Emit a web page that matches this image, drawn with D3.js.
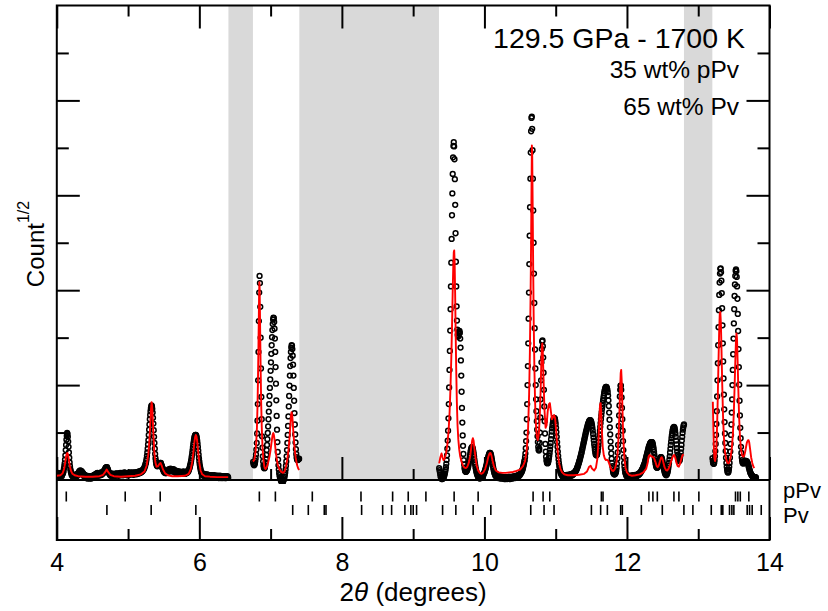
<!DOCTYPE html>
<html>
<head>
<meta charset="utf-8">
<script src="https://cdn.jsdelivr.net/npm/d3@7"></script>
<style>
  body { margin: 0; background: #fff; }
  svg { display: block; font-family: "Liberation Sans", Arial, Helvetica, sans-serif; }
</style>
</head>
<body>
<svg id="chart" width="828" height="611"></svg>
<script>
// 2theta ranges left out of the refinement (grey bands)
const excluded = [[6.408, 6.752], [7.403, 9.362], [12.80, 13.198]];

// observed pattern: sqrt(count) on a 0.005 deg 2theta grid, one array per refined window
const obsStep = 0.005;
const obsStart = [4.000, 6.755, 9.365, 13.200];
const obsA = [
  1.4,0.8,1.2,1.5,0.9,1.0,1.4,0.7,1.2,1.0, 1.3,0.9,1.1,1.5,0.8,1.2,1.4,1.3,1.6,1.9,
  2.4,2.9,3.5,4.3,5.2,6.3,7.4,8.5,9.3,9.9, 9.7,9.1,8.1,7.0,5.8,4.7,3.7,2.9,2.3,1.9,
  1.6,1.3,1.0,1.3,0.8,1.1,0.7,1.0,0.9,0.6, 1.0,0.7,1.1,0.6,0.9,1.2,0.8,1.1,1.3,1.0,
  1.4,1.2,1.7,1.4,1.9,1.6,2.0,1.5,1.9,1.6, 1.8,1.3,1.6,1.1,1.4,0.9,1.2,0.8,1.1,0.6,
  0.9,0.5,0.8,0.4,0.9,0.6,0.3,0.7,0.5,0.8, 0.4,0.7,0.3,0.6,0.8,0.4,0.6,0.3,0.7,0.5,
  0.8,0.5,0.9,0.6,1.0,0.7,1.1,0.9,1.2,0.8, 1.3,1.0,1.4,1.1,1.5,1.0,1.3,0.9,1.4,1.1,
  1.2,1.5,1.0,1.4,1.2,1.6,1.1,1.5,1.3,1.7, 1.4,1.8,1.6,2.0,1.9,2.3,2.2,2.6,2.5,2.7,
  2.6,2.7,2.4,2.3,2.0,1.8,1.6,1.3,1.4,1.1, 1.3,0.9,1.2,1.0,1.4,0.8,1.2,1.0,1.3,0.9,
  1.1,0.8,1.2,1.0,1.3,0.9,1.4,1.1,1.3,1.0, 1.4,1.1,1.3,0.9,1.2,1.0,1.4,1.1,1.5,1.2,
  1.0,1.3,1.1,1.5,1.2,1.4,1.0,1.3,1.5,1.2, 1.6,1.3,1.5,1.2,1.4,1.1,1.3,1.0,1.4,1.2,
  1.1,1.4,1.2,1.5,1.1,1.3,1.6,1.2,1.4,1.3, 1.5,1.2,1.6,1.3,1.4,1.1,1.5,1.3,1.6,1.2,
  1.4,1.6,1.3,1.5,1.2,1.6,1.4,1.7,1.3,1.6, 1.5,1.8,1.4,1.7,1.5,1.9,1.6,1.8,1.7,2.0,
  1.8,2.1,2.0,2.3,2.2,2.5,2.6,2.9,3.0,3.4, 3.6,4.0,4.5,5.1,5.8,6.6,7.5,8.4,9.5,10.6,
  11.7,12.8,13.7,14.5,15.1,15.5,15.7,15.5,15.0,14.2, 13.1,11.9,10.5,9.1,7.8,6.6,5.5,4.6,4.0,3.5,
  3.2,3.0,2.9,3.0,3.2,3.1,3.3,3.4,3.5,3.4, 3.6,3.5,3.6,3.3,3.1,2.9,2.6,2.5,2.2,2.1,
  1.8,2.0,1.6,1.9,1.5,1.8,1.4,1.7,1.5,1.8, 1.6,2.0,1.7,2.1,1.9,2.3,1.8,2.2,2.0,2.4,
  2.1,2.3,1.9,2.2,1.8,2.1,2.0,2.3,1.9,2.2, 1.7,2.0,1.6,1.9,1.5,1.8,1.6,1.9,1.5,1.8,
  1.4,1.7,1.5,1.8,1.3,1.6,1.4,1.7,1.3,1.5, 1.7,1.4,1.6,1.3,1.7,1.5,1.8,1.4,1.6,1.3,
  1.5,1.3,1.6,1.4,1.7,1.5,1.8,1.6,1.9,1.8, 2.0,2.2,2.4,2.7,3.0,3.3,3.7,4.1,4.6,5.1,
  5.7,6.3,6.9,7.5,8.0,8.5,8.9,9.2,9.4,9.5, 9.5,9.4,9.2,8.8,8.3,7.7,7.0,6.2,5.4,4.6,
  3.9,3.3,2.8,2.4,2.0,1.7,1.6,1.3,1.4,1.1, 1.3,0.9,1.2,1.0,1.3,0.8,1.1,0.9,1.2,0.8,
  1.1,0.8,1.2,0.9,0.7,1.1,0.8,1.0,0.6,0.9, 0.7,1.0,0.6,0.9,0.7,1.0,0.8,0.5,0.9,0.7,
  0.9,0.6,1.0,0.7,0.5,0.8,0.6,0.9,0.7,0.5, 0.8,0.6,0.9,0.5,0.7,0.4,0.8,0.6,0.9,0.5,
  0.7,0.4,0.8,0.6,0.5,0.8,0.4,0.7,0.5,0.8, 0.5,0.7,0.4,0.8,0.6,0.4,0.7,0.5,0.8,0.6,
  0.7,0.5
];
const obsB = [
  3.8,3.4,3.2,3.1,3.3,3.6,4.0,4.6,5.4,6.4, 7.8,9.8,12.5,16.0,21.0,27.0,33.5,39.5,43.0,41.5,
  36.5,30.0,23.5,17.5,12.8,9.2,6.8,5.0,3.9,3.1, 2.7,2.5,2.5,2.7,3.1,3.7,4.4,5.3,6.3,7.4,
  8.6,9.9,11.3,12.8,14.4,16.0,17.7,19.4,21.2,23.0, 24.8,26.6,28.4,30.1,31.6,32.9,33.8,34.2,34.1,33.3,
  31.9,29.8,27.0,23.8,20.3,16.8,13.5,10.6,8.0,5.9, 4.3,3.1,2.2,1.5,1.0,0.6,0.3,0.1,-0.1,-0.3,
  -0.4,-0.5,-0.5,-0.4,-0.3,-0.1,0.1,0.4,0.7,1.1, 1.6,2.2,3.0,3.9,5.0,6.3,7.8,9.5,11.4,13.4,
  15.5,17.7,19.9,22.0,24.0,25.7,27.0,27.9,28.4,28.3, 27.6,26.2,24.3,22.0,19.4,16.7,14.1,11.7,9.6,7.9,
  6.5,5.5,4.8,4.4,4.2,4.2,4.3,4.3,4.4,4.5
];
const obsC = [
  2.5,2.1,1.7,1.2,0.8,0.5,0.3,0.2,0.3,0.2, 0.5,0.3,0.7,0.5,0.9,1.1,1.4,1.8,2.2,2.7,
  3.4,4.2,5.2,6.6,8.3,10.4,13.0,16.0,19.5,23.2, 27.2,31.5,36.0,40.8,45.8,50.8,55.8,60.4,64.5,68.0,
  70.4,71.2,70.3,67.6,63.4,58.0,52.0,46.0,40.8,36.6, 33.6,31.7,30.6,30.2,30.4,30.9,31.3,31.4,31.0,29.8,
  27.9,25.2,22.0,18.6,15.2,12.1,9.4,7.2,5.5,4.2, 3.3,2.6,2.2,1.9,1.8,1.7,1.8,1.9,2.0,2.2,
  2.4,2.7,3.0,3.4,3.9,4.4,4.9,5.4,5.9,6.3, 6.6,6.8,6.9,6.9,6.7,6.4,6.0,5.5,4.9,4.3,
  3.7,3.2,2.7,2.3,1.9,1.6,1.3,1.1,0.9,0.7, 0.6,0.8,0.4,0.6,0.3,0.5,0.4,0.7,0.5,0.8,
  0.6,0.9,0.8,1.1,1.0,1.3,1.4,1.6,1.8,2.1, 2.3,2.6,2.9,3.2,3.6,3.9,4.3,4.6,4.9,5.2,
  5.4,5.6,5.7,5.7,5.6,5.4,5.1,4.7,4.3,3.8, 3.4,2.9,2.5,2.1,1.8,1.5,1.3,1.1,0.9,0.8,
  1.0,0.7,0.9,0.5,0.8,0.6,0.4,0.7,0.5,0.8, 0.4,0.6,0.3,0.7,0.5,0.4,0.7,0.3,0.6,0.4,
  0.6,0.3,0.5,0.2,0.6,0.4,0.2,0.5,0.3,0.6, 0.4,0.2,0.5,0.3,0.6,0.4,0.7,0.3,0.5,0.2,
  0.5,0.3,0.6,0.4,0.7,0.5,0.3,0.6,0.4,0.7, 0.5,0.8,0.6,0.4,0.7,0.5,0.8,0.6,0.9,0.7,
  0.9,0.7,1.0,0.8,1.1,0.9,1.2,1.1,1.3,1.4, 1.5,1.7,1.8,2.0,2.2,2.5,2.8,3.1,3.5,3.9,
  4.2,4.8,5.6,6.7,8.2,10.0,12.8,16.0,20.0,24.0, 28.8,34.0,39.5,45.5,51.5,57.5,63.5,69.0,73.5,76.3,
  76.6,74.0,69.5,63.5,56.8,50.0,43.5,37.3,32.0,27.5, 23.5,20.0,17.0,14.5,12.4,10.6,9.2,8.0,7.0,6.4,
  6.2,6.6,7.8,10.0,13.2,17.0,21.0,24.8,27.6,29.2, 29.4,28.2,25.8,22.6,19.0,15.5,12.4,9.8,7.6,6.0,
  4.9,4.2,3.8,3.6,3.5,3.6,3.8,4.1,4.6,5.1, 5.7,6.4,7.1,7.8,8.6,9.4,10.2,10.9,11.5,12.0,
  12.5,12.8,13.0,13.1,13.0,12.8,12.4,11.8,11.0,10.1, 9.1,8.0,7.0,6.0,5.1,4.3,3.6,3.0,2.5,2.1,
  1.8,1.5,1.4,1.1,1.2,0.9,1.0,0.7,0.9,0.6, 0.9,0.6,1.0,0.7,0.9,0.6,1.0,0.8,1.1,0.7,
  1.0,0.8,1.1,0.7,1.0,0.9,1.2,0.8,1.1,1.0, 1.2,0.9,1.3,1.0,1.2,1.1,1.4,1.2,1.5,1.4,
  1.6,1.5,1.8,1.8,2.0,2.1,2.3,2.5,2.7,2.9, 3.1,3.4,3.6,3.9,4.1,4.4,4.7,5.0,5.3,5.6,
  5.9,6.3,6.6,7.0,7.3,7.7,8.0,8.4,8.7,9.1, 9.4,9.8,10.1,10.4,10.7,11.0,11.3,11.6,11.8,12.0,
  12.2,12.4,12.5,12.6,12.6,12.5,12.4,12.2,11.9,11.5, 11.0,10.4,9.7,9.0,8.3,7.6,7.0,6.4,5.9,5.5,
  5.3,5.2,5.2,5.4,5.7,6.1,6.7,7.3,8.0,8.8, 9.6,10.4,11.2,12.0,12.8,13.6,14.3,15.0,15.6,16.2,
  16.8,17.3,17.8,18.3,18.7,19.0,19.3,19.5,19.6,19.6, 19.5,19.3,19.0,18.5,17.8,16.8,15.6,14.2,12.7,11.1,
  9.6,8.1,6.8,5.6,4.5,3.6,2.9,2.3,1.8,1.5, 1.3,1.2,1.2,1.2,1.3,1.5,1.7,2.0,2.6,3.4,
  4.5,5.8,7.4,9.3,11.4,13.6,15.7,17.6,19.0,19.9, 19.9,19.0,17.4,15.2,12.8,10.4,8.2,6.3,4.8,3.6,
  2.8,2.2,1.7,1.4,1.2,1.0,0.8,1.0,0.7,0.9, 0.6,0.9,0.7,0.5,0.8,0.6,0.9,0.7,0.5,0.8,
  0.6,0.9,0.7,1.0,0.8,0.6,0.9,0.7,1.0,0.8, 1.1,0.9,0.7,1.0,0.8,1.1,0.9,1.2,1.0,1.3,
  1.1,1.4,1.2,1.5,1.4,1.6,1.7,1.8,2.0,2.1, 2.3,2.4,2.6,2.8,3.0,3.2,3.4,3.6,3.9,4.2,
  4.5,4.8,5.1,5.4,5.7,6.0,6.3,6.6,6.9,7.1, 7.3,7.5,7.7,7.8,7.9,8.0,8.0,8.0,7.9,7.7,
  7.4,7.0,6.5,5.9,5.3,4.7,4.1,3.6,3.2,2.9, 2.7,2.6,2.6,2.7,2.9,3.1,3.4,3.7,4.0,4.3,
  4.5,4.7,4.8,4.8,4.7,4.5,4.2,3.8,3.4,3.0, 2.6,2.2,1.9,1.6,1.4,1.2,1.1,1.0,1.1,1.2,
  1.4,1.7,2.0,2.5,3.0,3.6,4.3,5.0,5.8,6.6, 7.4,8.1,8.8,9.4,9.9,10.4,10.7,11.0,11.1,11.2,
  11.1,10.8,10.4,9.8,9.1,8.3,7.5,6.7,6.0,5.3, 4.8,4.4,4.1,4.0,4.0,4.2,4.6,5.1,5.8,6.6,
  7.4,8.3,9.1,9.9,10.6,11.1,11.5,11.7
];
const obsD = [
  4.6,4.0,3.6,3.4,3.4,3.7,4.2,5.0,6.1,7.6, 9.5,11.8,14.5,17.6,21.0,24.6,28.4,32.2,35.8,39.0,
  41.6,43.5,44.5,44.6,43.8,42.0,39.4,36.2,32.6,28.8, 25.0,21.4,18.0,14.9,12.2,9.8,7.8,6.1,4.7,3.6,
  2.8,2.2,1.8,1.6,1.6,1.8,2.2,2.8,3.6,4.7, 6.0,7.6,9.5,11.7,14.2,17.0,20.0,23.2,26.5,29.8,
  33.0,36.0,38.8,41.2,43.0,44.1,44.4,44.0,42.8,40.8, 38.2,35.0,31.4,27.6,23.8,20.1,16.7,13.6,11.0,8.8,
  7.0,5.7,4.8,4.2,3.8,3.6,3.5,3.5,3.6,3.7, 3.8,3.9,4.0,4.0,4.0,3.9,3.9,3.8,3.7,3.5,
  3.3,3.0,2.7,2.4,2.1,1.9,1.6,1.4,1.3,1.1, 1.0,0.9,0.8,0.7,0.7,0.6,0.6,0.6,0.5,0.6,
  0.5,0.6,0.5
];

// calculated (fitted) pattern, [2theta, sqrt(count)]
const calc = [
  [4.000,0.9],[4.050,1.0],[4.080,1.4],[4.100,2.2],[4.115,3.4],[4.128,4.8],[4.140,5.6],[4.148,5.7],[4.156,5.4],[4.168,4.4],
  [4.182,3.0],[4.200,1.9],[4.220,1.3],[4.250,1.0],[4.300,0.8],[4.400,0.7],[4.500,0.7],[4.600,0.8],[4.650,1.1],[4.680,1.7],
  [4.700,2.2],[4.720,1.7],[4.750,1.1],[4.800,0.8],[4.900,0.7],[5.000,0.8],[5.100,0.9],[5.180,1.2],[5.230,1.8],[5.260,3.0],
  [5.285,5.5],[5.300,8.5],[5.312,12.0],[5.322,15.0],[5.330,16.4],[5.338,15.6],[5.346,13.0],[5.356,9.5],[5.368,6.0],[5.382,3.8],
  [5.400,2.8],[5.420,2.9],[5.440,3.4],[5.455,3.6],[5.470,3.1],[5.490,2.2],[5.520,1.4],[5.560,1.0],[5.620,0.8],[5.700,0.8],
  [5.800,0.9],[5.850,1.3],[5.880,2.3],[5.900,3.8],[5.915,5.6],[5.928,7.6],[5.940,9.0],[5.950,9.5],[5.960,9.2],[5.972,7.9],
  [5.985,5.8],[6.000,3.6],[6.018,2.0],[6.040,1.2],[6.080,0.8],[6.150,0.7],[6.250,0.6],[6.350,0.6],[6.405,0.6],
  [6.752,3.9],[6.770,4.2],[6.785,5.4],[6.798,7.8],[6.808,11.0],[6.816,15.5],[6.822,20.5],[6.828,26.5],[6.833,32.5],[6.838,38.5],
  [6.842,41.7],[6.846,40.5],[6.850,36.0],[6.855,29.5],[6.861,22.5],[6.868,16.0],[6.876,11.0],[6.886,7.0],[6.898,4.4],[6.912,2.8],
  [6.928,2.3],[6.945,2.7],[6.965,3.6],[6.985,5.0],[7.000,6.4],[7.012,7.8],[7.022,8.9],[7.030,9.6],[7.038,9.9],[7.046,9.5],
  [7.056,8.4],[7.068,6.6],[7.082,4.8],[7.100,3.2],[7.125,2.2],[7.150,1.7],[7.175,1.5],[7.195,1.8],[7.215,2.8],[7.235,4.4],
  [7.252,6.5],[7.266,9.0],[7.278,11.8],[7.287,13.7],[7.294,14.3],[7.302,13.8],[7.311,12.0],[7.322,9.4],[7.336,6.8],[7.352,4.7],
  [7.370,3.2],[7.388,2.4],[7.400,2.1],
  [9.365,3.5],[9.382,4.8],[9.398,5.6],[9.412,4.8],[9.425,4.2],[9.440,4.4],[9.460,5.5],[9.480,7.5],[9.498,10.5],[9.512,14.5],
  [9.524,19.5],[9.535,25.5],[9.545,32.0],[9.554,39.0],[9.562,44.5],[9.570,48.0],[9.576,48.4],[9.582,46.0],[9.589,39.5],[9.596,31.5],
  [9.604,23.5],[9.613,16.5],[9.623,11.5],[9.634,8.5],[9.646,6.5],[9.660,5.0],[9.680,3.8],[9.700,3.0],[9.720,2.6],[9.740,2.5],
  [9.760,2.8],[9.780,3.6],[9.800,5.0],[9.815,6.8],[9.828,8.3],[9.838,8.8],[9.848,8.3],[9.860,6.6],[9.875,4.6],[9.892,3.0],
  [9.912,2.0],[9.935,1.5],[9.960,1.3],[9.985,1.6],[10.010,2.3],[10.035,3.6],[10.055,4.9],[10.072,5.6],[10.085,5.7],[10.098,5.2],
  [10.115,4.0],[10.135,2.8],[10.160,2.0],[10.200,1.6],[10.250,1.5],[10.300,1.5],[10.350,1.6],[10.400,1.7],[10.450,1.9],[10.500,2.2],
  [10.540,2.9],[10.570,4.0],[10.595,6.5],[10.613,11.0],[10.627,18.0],[10.638,27.0],[10.647,38.0],[10.655,50.0],[10.661,62.0],[10.666,70.5],
  [10.671,68.0],[10.677,58.0],[10.684,45.0],[10.692,33.0],[10.701,23.5],[10.711,16.5],[10.722,11.8],[10.735,9.2],[10.748,8.4],[10.762,9.5],
  [10.776,13.0],[10.788,18.5],[10.798,24.5],[10.806,28.0],[10.812,28.8],[10.819,27.0],[10.828,22.0],[10.842,15.0],[10.858,11.0],[10.872,11.5],
  [10.888,14.5],[10.905,16.0],[10.918,16.2],[10.932,14.5],[10.948,12.8],[10.962,13.2],[10.978,13.7],[10.992,13.0],[11.006,10.5],[11.020,7.5],
  [11.035,5.0],[11.050,3.4],[11.068,2.3],[11.090,1.6],[11.120,1.2],[11.170,1.0],[11.250,1.0],[11.330,1.1],[11.400,1.3],[11.440,1.8],
  [11.470,2.8],[11.490,3.0],[11.510,2.4],[11.540,2.0],[11.565,2.6],[11.585,4.5],[11.600,8.0],[11.612,12.5],[11.622,15.8],[11.630,16.2],
  [11.638,14.5],[11.648,10.5],[11.660,7.0],[11.675,5.2],[11.690,4.5],[11.705,4.2],[11.720,4.3],[11.735,4.1],[11.750,3.5],[11.770,2.6],
  [11.790,2.0],[11.810,1.9],[11.830,2.3],[11.850,3.4],[11.868,5.5],[11.882,9.0],[11.894,14.0],[11.904,19.0],[11.912,22.5],[11.919,23.2],
  [11.926,21.0],[11.934,16.5],[11.943,11.5],[11.953,7.5],[11.965,4.5],[11.980,2.6],[12.000,1.6],[12.030,1.1],[12.070,0.9],[12.120,1.0],
  [12.180,1.2],[12.230,1.6],[12.270,2.4],[12.290,3.6],[12.305,5.0],[12.320,5.3],[12.340,5.0],[12.360,4.9],[12.380,4.6],[12.400,3.8],
  [12.418,2.9],[12.430,2.7],[12.445,3.0],[12.462,3.9],[12.476,4.6],[12.488,4.8],[12.500,4.4],[12.515,3.4],[12.530,2.6],[12.548,2.1],
  [12.566,2.0],[12.585,2.4],[12.605,3.2],[12.625,4.2],[12.645,5.0],[12.662,5.3],[12.678,4.7],[12.695,3.6],[12.712,2.9],[12.728,2.8],
  [12.745,3.4],[12.762,4.4],[12.778,5.2],[12.797,5.4],
  [13.205,16.5],[13.212,11.0],[13.220,6.5],[13.228,4.5],[13.236,4.0],[13.245,4.8],[13.255,7.0],[13.265,11.5],[13.275,18.0],[13.285,25.5],
  [13.294,31.5],[13.302,35.0],[13.310,35.4],[13.318,33.0],[13.327,27.0],[13.337,20.0],[13.348,13.5],[13.360,9.0],[13.375,6.0],[13.392,4.4],
  [13.410,3.6],[13.425,3.5],[13.440,3.9],[13.455,4.9],[13.470,6.5],[13.486,9.5],[13.500,14.5],[13.512,20.5],[13.522,26.0],[13.530,29.5],
  [13.537,30.9],[13.544,29.8],[13.552,25.5],[13.562,19.5],[13.573,13.5],[13.586,9.0],[13.600,6.5],[13.615,5.2],[13.630,4.9],[13.645,5.1],
  [13.658,5.9],[13.670,6.9],[13.683,7.9],[13.695,8.3],[13.705,8.4],[13.715,8.0],[13.728,6.5],[13.742,4.8],[13.758,3.6],[13.772,2.9],
  [13.785,2.5]
];

// Bragg reflection positions
const pPvRefl = [4.133, 4.96, 5.451, 6.842, 7.067, 7.585, 8.268, 8.712, 8.931, 9.179, 9.575, 9.912, 10.683, 10.823, 10.917,
  11.641, 11.664, 12.308, 12.364, 12.426, 12.659, 12.729, 13.009, 13.523, 13.556, 13.59, 13.71];
const pvRefl = [4.703, 5.324, 5.951, 7.310, 7.529, 7.753, 7.777, 8.277, 8.572, 8.698, 8.884, 8.968, 9.001, 9.048, 9.413,
  9.599, 9.842, 10.09, 10.65, 10.837, 10.977, 11.501, 11.631, 11.725, 11.912, 11.935, 12.202, 12.496, 12.799, 12.925,
  13.183, 13.323, 13.345, 13.439, 13.472, 13.5, 13.687, 13.72, 13.757, 13.884];

const majorX = [4, 6, 8, 10, 12, 14];
const minorX = [5, 7, 9, 11, 13];
const majorY = [20, 40, 60, 80];
const minorY = [10, 30, 50, 70, 90];
const notes = ['129.5 GPa - 1700 K', '35 wt% pPv', '65 wt% Pv'];

const frame = { left: 56.8, right: 769.5, top: 5.5, base: 480, bottom: 540 };

const obs = [obsA, obsB, obsC, obsD]
    .flatMap((vals, k) => vals.map((v, i) => [obsStart[k] + i * obsStep, v]));

const svg = d3.select('#chart');

const x = d3.scaleLinear().domain([4, 14]).range([frame.left, frame.right]);
const y = d3.scaleLinear().domain([0, 100]).range([frame.base, frame.top]);

// grey excluded regions
svg.append('g').selectAll('rect')
    .data(excluded)
    .join('rect')
    .attr('x', d => x(d[0]))
    .attr('width', d => x(d[1]) - x(d[0]))
    .attr('y', frame.top)
    .attr('height', frame.base - frame.top)
    .attr('fill', '#d9d9d9');

// tick-only axes (labels handled separately)
function ticks(axisFn, scale, values, size, transform) {
    svg.append('g')
        .attr('transform', transform)
        .call(axisFn(scale).tickValues(values).tickSize(size).tickFormat(''))
        .call(g => g.select('.domain').remove())
        .call(g => g.selectAll('line').attr('stroke', '#000').attr('stroke-width', 2));
}

ticks(d3.axisBottom, x, majorX, -23, `translate(0,${frame.bottom})`);
ticks(d3.axisBottom, x, minorX, -11, `translate(0,${frame.bottom})`);
ticks(d3.axisBottom, x, majorX, -23, `translate(0,${frame.base})`);
ticks(d3.axisBottom, x, minorX, -11, `translate(0,${frame.base})`);
ticks(d3.axisTop, x, majorX, -23, `translate(0,${frame.top})`);
ticks(d3.axisTop, x, minorX, -11, `translate(0,${frame.top})`);
ticks(d3.axisLeft, y, majorY, -23, `translate(${frame.left},0)`);
ticks(d3.axisLeft, y, minorY, -12, `translate(${frame.left},0)`);
ticks(d3.axisRight, y, majorY, -23, `translate(${frame.right},0)`);
ticks(d3.axisRight, y, minorY, -12, `translate(${frame.right},0)`);

// frame + zero line
svg.append('rect')
    .attr('x', frame.left).attr('y', frame.top)
    .attr('width', frame.right - frame.left).attr('height', frame.bottom - frame.top)
    .attr('fill', 'none').attr('stroke', '#000').attr('stroke-width', 2);
svg.append('line')
    .attr('x1', frame.left).attr('x2', frame.right)
    .attr('y1', frame.base).attr('y2', frame.base)
    .attr('stroke', '#000').attr('stroke-width', 2);

// tick labels
svg.append('g')
    .attr('transform', `translate(0,${frame.bottom})`)
    .call(d3.axisBottom(x).tickValues(majorX).tickSize(0).tickPadding(13).tickFormat(d3.format('d')))
    .call(g => g.select('.domain').remove())
    .call(g => g.attr('font-size', 25).attr('font-family', null))
    .call(g => g.selectAll('text').attr('fill', '#000'));

svg.append('clipPath').attr('id', 'plot-clip')
    .append('rect')
    .attr('x', frame.left).attr('y', frame.top)
    .attr('width', frame.right - frame.left).attr('height', frame.base - frame.top + 4);

const plot = svg.append('g').attr('clip-path', 'url(#plot-clip)');

// observed points
plot.append('g')
    .selectAll('circle')
    .data(obs)
    .join('circle')
    .attr('cx', d => x(d[0]))
    .attr('cy', d => y(d[1]))
    .attr('r', 2.4)
    .attr('fill', 'none')
    .attr('stroke', '#000')
    .attr('stroke-width', 1.5);

// calculated profile, broken at the excluded ranges
const segId = d => excluded.filter(r => d[0] >= r[1]).length;
const line = d3.line().x(d => x(d[0])).y(d => y(d[1]));
plot.append('g')
    .selectAll('path')
    .data(d3.groups(calc, segId).map(g => g[1]))
    .join('path')
    .attr('d', line)
    .attr('fill', 'none')
    .attr('stroke', '#ff0000')
    .attr('stroke-width', 1.9)
    .attr('stroke-linejoin', 'round');

// reflection tick rows
const rows = [
    { name: 'pPv', refl: pPvRefl, y0: 491.5, y1: 501.5, ty: 497.5 },
    { name: 'Pv',  refl: pvRefl,  y0: 505,   y1: 515,   ty: 522.5 },
];
rows.forEach(r => {
    svg.append('g')
        .selectAll('line')
        .data(r.refl)
        .join('line')
        .attr('x1', d => x(d)).attr('x2', d => x(d))
        .attr('y1', r.y0).attr('y2', r.y1)
        .attr('stroke', '#000')
        .attr('stroke-width', 1.6);
    svg.append('text')
        .attr('x', 783).attr('y', r.ty)
        .attr('font-size', 22)
        .text(r.name);
});

// annotations
svg.append('text')
    .attr('x', 745).attr('y', 48)
    .attr('text-anchor', 'end')
    .attr('font-size', 28.5)
    .text(notes[0]);
svg.append('text')
    .attr('x', 739).attr('y', 78)
    .attr('text-anchor', 'end')
    .attr('font-size', 24.5)
    .text(notes[1]);
svg.append('text')
    .attr('x', 739).attr('y', 115)
    .attr('text-anchor', 'end')
    .attr('font-size', 24.5)
    .text(notes[2]);

// axis titles
const xt = svg.append('text')
    .attr('x', (frame.left + frame.right) / 2).attr('y', 601)
    .attr('text-anchor', 'middle')
    .attr('font-size', 26);
xt.append('tspan').text('2');
xt.append('tspan').attr('font-style', 'italic').text('θ');
xt.append('tspan').text(' (degrees)');

const yt = svg.append('text')
    .attr('transform', 'translate(44,244) rotate(-90)')
    .attr('text-anchor', 'middle')
    .attr('font-size', 24);
yt.append('tspan').text('Count');
yt.append('tspan').attr('font-size', 16).attr('dy', -15).text('1/2');
</script>
</body>
</html>
